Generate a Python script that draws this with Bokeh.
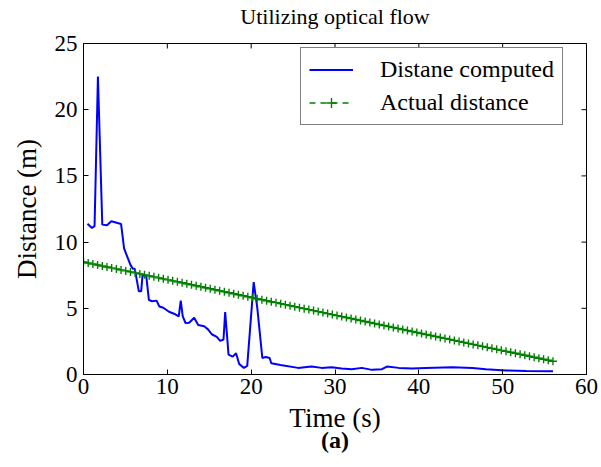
import math
from bokeh.plotting import figure
from bokeh.models import Range1d, Legend, LegendItem, LinearAxis, FixedTicker
from bokeh.embed import file_html
from bokeh.resources import INLINE

# ---- data ----
time_computed = [0.48, 1.0, 1.32, 1.72, 2.24, 2.8, 3.32, 4.48, 4.84, 5.6, 5.88, 6.12,
                 6.6, 6.88, 7.04, 7.48, 7.8, 8.2, 8.72, 9.04, 9.52, 10.2, 10.8, 11.36,
                 11.6, 11.84, 12.17, 12.6, 13.2, 13.68, 14.4, 14.88, 15.3, 15.9, 16.3,
                 16.7, 16.9, 17.3, 17.8, 18.2, 18.57, 19.13, 19.53, 20.3, 20.73, 21.33,
                 21.73, 22.2, 22.4, 23.5, 25.6, 27.2, 28.4, 29.6, 30.8, 32.0, 33.2, 34.4,
                 35.6, 36.2, 37.6, 39.2, 40.8, 44.0, 46.4, 48.0, 50.4, 52.8, 56.0]
dist_computed = [11.39, 11.07, 11.2, 22.5, 11.32, 11.27, 11.57, 11.37, 9.52, 8.28, 7.98, 7.98,
                 6.28, 6.28, 7.48, 7.48, 5.63, 5.53, 5.58, 5.14, 5.04, 4.74, 4.59, 4.39,
                 5.58, 4.39, 3.89, 3.91, 4.29, 3.74, 3.64, 3.39, 3.04, 2.84, 2.54,
                 2.64, 4.71, 1.5, 1.35, 1.6, 0.8, 0.5, 0.65, 6.98, 5.03, 1.25,
                 1.32, 1.25, 0.85, 0.72, 0.5, 0.6, 0.5, 0.55, 0.45, 0.4, 0.5, 0.35,
                 0.4, 0.6, 0.5, 0.45, 0.5, 0.55, 0.5, 0.4, 0.3, 0.27, 0.25]

time_actual = [0.00, 0.56, 1.12, 1.68, 2.24, 2.80, 3.36, 3.92, 4.48, 5.04, 5.60, 6.16, 6.72,
               7.28, 7.84, 8.40, 8.96, 9.52, 10.08, 10.64, 11.20, 11.76, 12.32, 12.88, 13.44,
               14.00, 14.56, 15.12, 15.68, 16.24, 16.80, 17.36, 17.92, 18.48, 19.04, 19.60,
               20.16, 20.72, 21.28, 21.84, 22.40, 22.96, 23.52, 24.08, 24.64, 25.20, 25.76,
               26.32, 26.88, 27.44, 28.00, 28.56, 29.12, 29.68, 30.24, 30.80, 31.36, 31.92,
               32.48, 33.04, 33.60, 34.16, 34.72, 35.28, 35.84, 36.40, 36.96, 37.52, 38.08,
               38.64, 39.20, 39.76, 40.32, 40.88, 41.44, 42.00, 42.56, 43.12, 43.68, 44.24,
               44.80, 45.36, 45.92, 46.48, 47.04, 47.60, 48.16, 48.72, 49.28, 49.84, 50.40,
               50.96, 51.52, 52.08, 52.64, 53.20, 53.76, 54.32, 54.88, 55.44, 56.00]
dist_actual = [8.500, 8.425, 8.350, 8.275, 8.200, 8.125, 8.050, 7.975, 7.900, 7.825, 7.750,
               7.675, 7.600, 7.525, 7.450, 7.375, 7.300, 7.225, 7.150, 7.075, 7.000, 6.925,
               6.850, 6.775, 6.700, 6.625, 6.550, 6.475, 6.400, 6.325, 6.250, 6.175, 6.100,
               6.025, 5.950, 5.875, 5.800, 5.725, 5.650, 5.575, 5.500, 5.425, 5.350, 5.275,
               5.200, 5.125, 5.050, 4.975, 4.900, 4.825, 4.750, 4.675, 4.600, 4.525, 4.450,
               4.375, 4.300, 4.225, 4.150, 4.075, 4.000, 3.925, 3.850, 3.775, 3.700, 3.625,
               3.550, 3.475, 3.400, 3.325, 3.250, 3.175, 3.100, 3.025, 2.950, 2.875, 2.800,
               2.725, 2.650, 2.575, 2.500, 2.425, 2.350, 2.275, 2.200, 2.125, 2.050, 1.975,
               1.900, 1.825, 1.750, 1.675, 1.600, 1.525, 1.450, 1.375, 1.300, 1.225, 1.150,
               1.075, 1.000]

x_ticks = [0, 10, 20, 30, 40, 50, 60]
y_ticks = [0, 5, 10, 15, 20, 25]

title_text = "Utilizing optical flow"
x_label = "Time (s)"
y_label = "Distance (m)"
sub_caption = "(a)"
label_computed = "Distane computed"
label_actual = "Actual distance"

FONT = "Liberation Serif"

p = figure(width=601, height=467, output_backend="svg", toolbar_location=None,
           x_range=Range1d(x_ticks[0], x_ticks[-1]), y_range=Range1d(y_ticks[0], y_ticks[-1]),
           min_border_left=83, min_border_right=15, min_border_top=40, min_border_bottom=93,
           background_fill_color="white", border_fill_color="white")

p.xgrid.visible = False
p.ygrid.visible = False
p.outline_line_color = "black"
p.outline_line_width = 1

for ax in (p.xaxis[0], p.yaxis[0]):
    ax.major_tick_in = 5
    ax.major_tick_out = 0
    ax.minor_tick_in = 0
    ax.minor_tick_out = 0
    ax.axis_line_color = "black"
    ax.major_tick_line_color = "black"
    ax.major_label_text_font = FONT
    ax.major_label_text_color = "black"
    ax.major_label_text_font_size = "23px"
    ax.axis_label_text_font = FONT
    ax.axis_label_text_font_size = "27px"
    ax.axis_label_text_font_style = "normal"
    ax.axis_label_text_color = "black"

p.xaxis.ticker = FixedTicker(ticks=x_ticks)
p.yaxis.ticker = FixedTicker(ticks=y_ticks)
p.xaxis.major_label_standoff = 4
p.yaxis.major_label_standoff = 6
p.xaxis.axis_label = x_label
p.yaxis.axis_label = y_label
p.xaxis.axis_label_standoff = 6
p.yaxis.axis_label_standoff = 10


def text_only_axis(text, size, style, standoff):
    """An axis with no ticks or line, used only to place a caption text."""
    ax = LinearAxis(ticker=FixedTicker(ticks=[]), axis_label=text)
    ax.axis_line_color = None
    ax.major_tick_line_color = None
    ax.minor_tick_line_color = None
    ax.axis_label_text_font = FONT
    ax.axis_label_text_font_size = size
    ax.axis_label_text_font_style = style
    ax.axis_label_text_color = "black"
    ax.axis_label_standoff = standoff
    return ax


p.add_layout(text_only_axis(title_text, "22px", "normal", 15), "above")
p.add_layout(text_only_axis(sub_caption, "24px", "bold", -9), "below")

# mirrored inward ticks on the top and right edges (half of each dash is clipped by the frame)
p.scatter(x_ticks, [y_ticks[-1]] * len(x_ticks), marker="dash", angle=math.pi / 2,
          size=10, line_color="black", line_width=1)
p.scatter([x_ticks[-1]] * len(y_ticks), y_ticks, marker="dash", angle=0,
          size=10, line_color="black", line_width=1)

r_comp = p.line(time_computed, dist_computed, line_color="blue", line_width=2)
r_act_line = p.line(time_actual, dist_actual, line_color="green", line_width=1.5,
                    line_dash="6 5")
r_act_pts = p.scatter(time_actual, dist_actual, marker="cross", size=8,
                      line_color="green", line_width=1.4)

legend = Legend(items=[LegendItem(label=label_computed, renderers=[r_comp]),
                       LegendItem(label=label_actual, renderers=[r_act_line, r_act_pts])],
                location=(217, 249))
legend.label_text_font = FONT
legend.label_text_font_size = "24px"
legend.label_text_color = "black"
legend.border_line_color = "black"
legend.border_line_width = 1
legend.background_fill_alpha = 1
legend.padding = 8
legend.spacing = 6
legend.glyph_width = 44
legend.glyph_height = 25
legend.label_height = 25
legend.label_standoff = 27
legend.margin = 0
p.add_layout(legend, "center")

open("out.html", "w").write(file_html(p, INLINE))
